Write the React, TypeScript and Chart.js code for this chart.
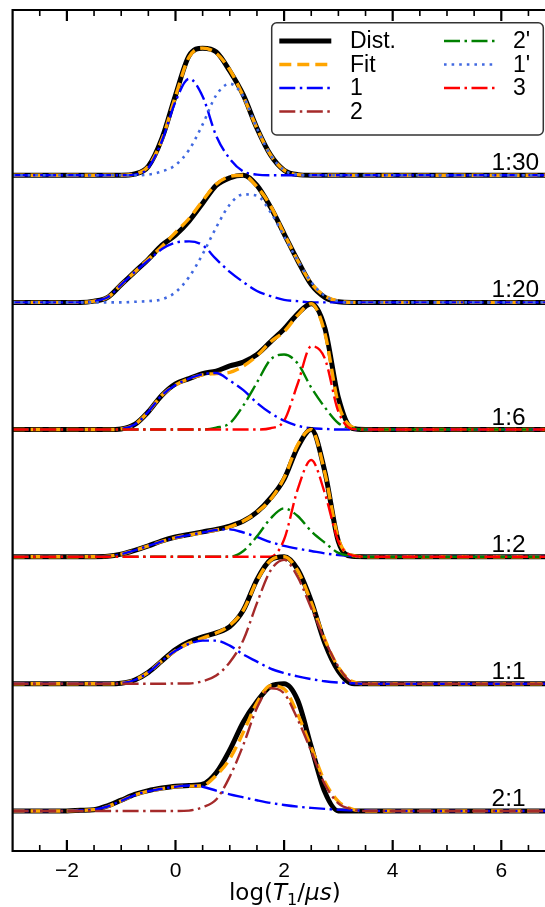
import React, { useEffect, useRef } from "react";
import { Chart, registerables } from "chart.js";
Chart.register(...registerables);

// ---- data ----
const logT = [-3, -2, -1.75, -1.5, -1.25, -1, -0.75, -0.5, -0.25, 0, 0.25, 0.5, 0.75, 1, 1.25, 1.5, 1.75, 2, 2.25, 2.5, 2.75, 3, 3.25, 3.5, 3.75, 4, 5, 6, 7];

const xMajorTicks = [-2, 0, 2, 4, 6];
const xMinorTicks = [-2.5, -1.5, -1, -0.5, 0.5, 1, 1.5, 2.5, 3, 3.5, 4.5, 5, 5.5, 6.5];

// ratio labels, bottom (offset 0) to top (offset 5)
const ratioLabels = ["2:1", "1:1", "1:2", "1:6", "1:20", "1:30"];

// 1:30
const dist30 = [0,0,0,0,0, 0,0.01,0.07,0.29,0.63, 0.94,1.0,0.97,0.82,0.63, 0.37,0.16,0.04,0.005,0, 0,0,0,0,0, 0,0,0,0];
const fit30 = [0,0,0,0,0, 0,0.01,0.07,0.28,0.62, 0.93,1.0,0.96,0.83,0.62, 0.37,0.16,0.04,0.005,0, 0,0,0,0,0, 0,0,0,0];
const c1_30 = [0,0,0,0,0, 0,0.005,0.06,0.27,0.58, 0.76,0.62,0.31,0.13,0.03, 0.005,0,0,0,0, 0,0,0,0,0, 0,0,0,0];
const c1p_30 = [0,0,0,0,0, 0,0,0.005,0.03,0.08, 0.2,0.4,0.63,0.72,0.62, 0.37,0.16,0.04,0.005,0, 0,0,0,0,0, 0,0,0,0];

// 1:20
const dist20 = [0,0,0,0.01,0.04, 0.14,0.24,0.34,0.45,0.53, 0.64,0.78,0.92,0.98,1.0, 0.92,0.75,0.54,0.33,0.14, 0.04,0.005,0,0,0, 0,0,0,0];
const fit20 = [0,0,0,0.01,0.04, 0.14,0.24,0.34,0.44,0.55, 0.66,0.8,0.93,0.99,1.0, 0.91,0.76,0.54,0.33,0.15, 0.05,0.01,0,0,0, 0,0,0,0];
const c1_20 = [0,0,0,0.01,0.04, 0.14,0.24,0.33,0.42,0.47, 0.48,0.45,0.34,0.24,0.16, 0.09,0.05,0.02,0.01,0, 0,0,0,0,0, 0,0,0,0];
const c1p_20 = [0,0,0,0,0, 0,0.005,0.01,0.025,0.08, 0.2,0.38,0.59,0.77,0.85, 0.84,0.71,0.52,0.33,0.16, 0.05,0.01,0,0,0, 0,0,0,0];

// 1:6
const dist6 = [0,0,0,0,0, 0.005,0.04,0.14,0.27,0.36, 0.4,0.44,0.46,0.5,0.53, 0.59,0.69,0.79,0.91,0.99, 0.8,0.25,0.01,0,0, 0,0,0,0];
const fit6 = [0,0,0,0,0, 0.005,0.04,0.14,0.27,0.35, 0.4,0.43,0.44,0.45,0.5, 0.58,0.69,0.77,0.9,0.99, 0.76,0.2,0.02,0,0, 0,0,0,0];
const c1_6 = [0,0,0,0,0, 0.005,0.04,0.14,0.27,0.35, 0.4,0.435,0.445,0.385,0.31, 0.21,0.13,0.07,0.03,0.01, 0.005,0,0,0,0, 0,0,0,0];
const c2p_6 = [0,0,0,0,0, 0,0,0,0,0, 0,0,0.015,0.05,0.19, 0.37,0.55,0.59,0.52,0.33, 0.175,0.05,0.01,0,0, 0,0,0,0];
const c3_6 = [0,0,0,0,0, 0,0,0,0,0, 0,0,0,0,0, 0,0.01,0.07,0.36,0.655, 0.56,0.14,0.005,0,0, 0,0,0,0];

// 1:2
const dist2 = [0,0,0,0,0.003, 0.02,0.05,0.085,0.125,0.155, 0.175,0.195,0.215,0.24,0.28, 0.35,0.46,0.61,0.86,1.0, 0.67,0.12,0.003,0,0, 0,0,0,0];
const fit2 = [0,0,0,0,0.003, 0.02,0.05,0.085,0.12,0.15, 0.17,0.19,0.21,0.235,0.28, 0.35,0.45,0.62,0.88,1.0, 0.66,0.14,0.01,0,0, 0,0,0,0];
const c1_2 = [0,0,0,0,0.003, 0.02,0.05,0.085,0.12,0.15, 0.17,0.19,0.21,0.215,0.19, 0.155,0.115,0.085,0.063,0.045, 0.026,0.013,0.005,0,0, 0,0,0,0];
const c2p_2 = [0,0,0,0,0, 0,0,0,0,0, 0,0,0,0,0.045, 0.16,0.3,0.38,0.32,0.2, 0.11,0.03,0.005,0,0, 0,0,0,0];
const c3_2 = [0,0,0,0,0, 0,0,0,0,0, 0,0,0,0,0, 0,0,0.135,0.53,0.76, 0.5,0.12,0.01,0,0, 0,0,0,0];

// 1:1
const dist1 = [0,0,0,0,0, 0.005,0.03,0.09,0.18,0.27, 0.33,0.37,0.4,0.45,0.58, 0.82,0.975,1.0,0.9,0.65, 0.32,0.1,0.003,0,0, 0,0,0,0];
const fit1 = [0,0,0,0,0, 0.005,0.03,0.09,0.18,0.26, 0.32,0.36,0.4,0.46,0.58, 0.81,0.97,1.0,0.89,0.64, 0.35,0.13,0.02,0,0, 0,0,0,0];
const c1_1 = [0,0,0,0,0, 0.005,0.03,0.09,0.18,0.26, 0.315,0.34,0.34,0.3,0.23, 0.175,0.12,0.085,0.058,0.037, 0.02,0.01,0.005,0,0, 0,0,0,0];
const c2_1 = [0,0,0,0,0, 0,0,0,0,0.003, 0.003,0.02,0.065,0.17,0.345, 0.635,0.89,0.975,0.84,0.595, 0.345,0.135,0.013,0,0, 0,0,0,0];

// 2:1
const dist21 = [0,0,0.005,0.01,0.04, 0.085,0.13,0.16,0.18,0.195, 0.2,0.21,0.3,0.48,0.7, 0.86,0.98,1.0,0.87,0.505, 0.15,0,0,0,0, 0,0,0,0];
const fit21 = [0,0,0.005,0.01,0.035, 0.08,0.125,0.155,0.175,0.19, 0.195,0.2,0.28,0.41,0.62, 0.85,0.985,0.96,0.76,0.5, 0.23,0.075,0.015,0,0, 0,0,0,0];
const c1_21 = [0,0,0.005,0.01,0.035, 0.08,0.125,0.155,0.175,0.19, 0.2,0.19,0.16,0.13,0.107, 0.084,0.063,0.047,0.034,0.024, 0.016,0.01,0.005,0.003,0.001, 0,0,0,0];
const c2_21 = [0,0,0,0,0, 0,0,0,0,0, 0.003,0.03,0.09,0.27,0.52, 0.81,0.965,0.925,0.72,0.47, 0.21,0.06,0.013,0,0, 0,0,0,0];

// ---- styles ----
type Sty = { color: string; width: number; dash: number[] };
const STY: Record<string, Sty> = {
  "Dist.": { color: "#000000", width: 5, dash: [] },
  Fit: { color: "#FFA500", width: 3.4, dash: [12, 6] },
  "1": { color: "#0000FF", width: 2.4, dash: [16, 4.5, 2.5, 4.5] },
  "2": { color: "#A52A2A", width: 2.4, dash: [16, 4.5, 2.5, 4.5] },
  "2'": { color: "#008000", width: 2.4, dash: [16, 4.5, 2.5, 4.5] },
  "1'": { color: "#4169E1", width: 2.6, dash: [2.6, 5] },
  "3": { color: "#FF0000", width: 2.4, dash: [16, 4.5, 2.5, 4.5] },
};

const SANS = '"Liberation Sans", Arial, sans-serif';

const decor = {
  id: "decor",
  afterDraw(chart: any) {
    const { ctx, chartArea: a, scales } = chart;
    const x = scales.x;
    const y = scales.y;
    ctx.save();
    // frame
    ctx.strokeStyle = "#000";
    ctx.lineWidth = 2.2;
    ctx.setLineDash([]);
    ctx.beginPath();
    ctx.moveTo(a.right + 5, a.top);
    ctx.lineTo(a.left, a.top);
    ctx.lineTo(a.left, a.bottom);
    ctx.lineTo(a.right + 5, a.bottom);
    ctx.stroke();
    // ticks
    const tick = (v: number, len: number, w: number) => {
      const px = x.getPixelForValue(v);
      ctx.lineWidth = w;
      ctx.beginPath();
      ctx.moveTo(px, a.bottom);
      ctx.lineTo(px, a.bottom - len);
      ctx.moveTo(px, a.top);
      ctx.lineTo(px, a.top + len);
      ctx.stroke();
    };
    xMajorTicks.forEach((v) => tick(v, 11, 2.2));
    xMinorTicks.forEach((v) => tick(v, 6, 1.6));
    // tick labels
    ctx.fillStyle = "#000";
    ctx.font = `21px ${SANS}`;
    ctx.textAlign = "center";
    ctx.textBaseline = "alphabetic";
    xMajorTicks.forEach((v) => {
      const t = v < 0 ? "\u2212" + Math.abs(v) : String(v);
      ctx.fillText(t, x.getPixelForValue(v), a.bottom + 26);
    });
    // axis title: log(T_1/μs)
    const base = 23;
    const parts: [string, string, number][] = [
      ["log(", `${base}px "DejaVu Sans"`, 0],
      ["T", `italic ${base}px "DejaVu Sans"`, 0],
      ["1", `${base * 0.7}px "DejaVu Sans"`, 5],
      ["/", `${base}px "DejaVu Sans"`, 0],
      ["\u03bcs", `italic ${base}px "DejaVu Sans"`, 0],
      [")", `${base}px "DejaVu Sans"`, 0],
    ];
    let total = 0;
    parts.forEach(([t, f]) => {
      ctx.font = f;
      total += ctx.measureText(t).width;
    });
    let cx = (a.left + a.right) / 2 + 6 - total / 2;
    ctx.textAlign = "left";
    const ty = a.bottom + 49;
    parts.forEach(([t, f, dy]) => {
      ctx.font = f;
      ctx.fillText(t, cx, ty + dy);
      cx += ctx.measureText(t).width;
    });
    // ratio labels
    ctx.font = `24.5px ${SANS}`;
    ctx.textAlign = "left";
    ratioLabels.forEach((lab, k) => {
      ctx.fillText(lab, x.getPixelForValue(5.82), y.getPixelForValue(k) - 5);
    });
    // legend
    const L = 271.7, T = 22.7, R = 543.3, B = 135;
    ctx.beginPath();
    const r = 5;
    ctx.moveTo(L + r, T);
    ctx.lineTo(R - r, T);
    ctx.arcTo(R, T, R, T + r, r);
    ctx.lineTo(R, B - r);
    ctx.arcTo(R, B, R - r, B, r);
    ctx.lineTo(L + r, B);
    ctx.arcTo(L, B, L, B - r, r);
    ctx.lineTo(L, T + r);
    ctx.arcTo(L, T, L + r, T, r);
    ctx.closePath();
    ctx.fillStyle = "rgba(255,255,255,0.9)";
    ctx.fill();
    ctx.strokeStyle = "#333";
    ctx.lineWidth = 1.5;
    ctx.stroke();
    const entries: [string, string, number, number][] = [
      ["Dist.", "Dist.", 0, 0],
      ["Fit", "Fit", 0, 1],
      ["1", "1", 0, 2],
      ["2", "2", 0, 3],
      ["2'", "2'", 1, 0],
      ["1'", "1'", 1, 1],
      ["3", "3", 1, 2],
    ];
    const rowY = [41, 64.5, 88, 111.5];
    const colX = [279.3, 444];
    const textX = [350, 513];
    ctx.font = `23px ${SANS}`;
    ctx.textBaseline = "middle";
    entries.forEach(([key, text, c, rr]) => {
      const s = STY[key];
      ctx.strokeStyle = s.color;
      ctx.lineWidth = s.width;
      ctx.setLineDash(s.dash);
      ctx.lineCap = "butt";
      ctx.beginPath();
      ctx.moveTo(colX[c], rowY[rr]);
      ctx.lineTo(colX[c] + 52, rowY[rr]);
      ctx.stroke();
      ctx.setLineDash([]);
      ctx.fillStyle = "#000";
      ctx.fillText(text, textX[c], rowY[rr] + 1);
    });
    ctx.restore();
  },
};

export default function App() {
  const ref = useRef<HTMLCanvasElement | null>(null);
  useEffect(() => {
    if (!ref.current) return;
    const panels: { offset: number; series: [string, number[]][] }[] = [
      { offset: 5, series: [["Dist.", dist30], ["Fit", fit30], ["1", c1_30], ["1'", c1p_30]] },
      { offset: 4, series: [["Dist.", dist20], ["Fit", fit20], ["1", c1_20], ["1'", c1p_20]] },
      { offset: 3, series: [["Dist.", dist6], ["Fit", fit6], ["1", c1_6], ["2'", c2p_6], ["3", c3_6]] },
      { offset: 2, series: [["Dist.", dist2], ["Fit", fit2], ["1", c1_2], ["2'", c2p_2], ["3", c3_2]] },
      { offset: 1, series: [["Dist.", dist1], ["Fit", fit1], ["1", c1_1], ["2", c2_1]] },
      { offset: 0, series: [["Dist.", dist21], ["Fit", fit21], ["1", c1_21], ["2", c2_21]] },
    ];
    const drawOrder: any[] = [];
    panels.forEach((p) => {
      p.series.forEach(([key, vals]) => {
        const s = STY[key];
        drawOrder.push({
          label: key,
          data: logT.map((t, i) => ({ x: t, y: vals[i] + p.offset })),
          borderColor: s.color,
          borderWidth: s.width,
          borderDash: s.dash,
          borderCapStyle: "butt",
          borderJoinStyle: "round",
          pointRadius: 0,
          fill: false,
          cubicInterpolationMode: "monotone",
        });
      });
    });
    // Chart.js draws dataset 0 last (on top)
    const datasets = drawOrder.slice().reverse();
    const chart = new Chart(ref.current, {
      type: "line",
      data: { datasets },
      options: {
        animation: false,
        responsive: false,
        devicePixelRatio: 1,
        layout: { padding: { left: 12.6, top: 10, right: 0, bottom: 56 } },
        plugins: { legend: { display: false }, tooltip: { enabled: false } },
        scales: {
          x: { type: "linear", min: -3, max: 6.805, display: false },
          y: { type: "linear", min: -0.315, max: 6.3, display: false },
        },
      },
      plugins: [decor],
    } as any);
    return () => chart.destroy();
  }, []);
  return (
    <div style={{ position: "absolute", left: 0, top: 0, width: 545, height: 907, background: "#fff" }}>
      <canvas ref={ref} width={545} height={907} style={{ width: 545, height: 907, display: "block" }} />
    </div>
  );
}
